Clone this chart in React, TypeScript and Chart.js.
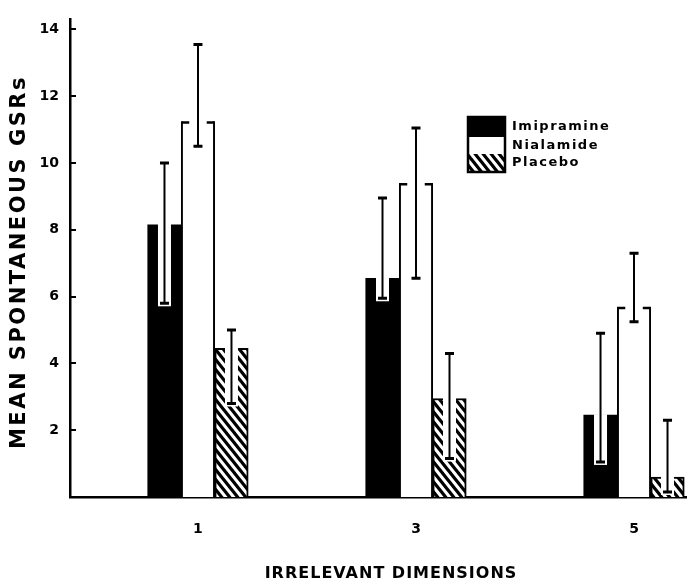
import React, { useEffect, useRef } from "react";
import { Chart, registerables } from "chart.js";

Chart.register(...registerables);

// ---- data ----
const categories = [1, 3, 5];
const seriesNames = ["Imipramine", "Nialamide", "Placebo"];
const imipramineMeans = [8.15, 6.55, 2.45];
const imipramineLow = [5.8, 5.95, 1.05];
const imipramineHigh = [10.0, 8.95, 4.9];
const nialamideMeans = [11.25, 9.4, 5.7];
const nialamideLow = [10.5, 6.55, 5.25];
const nialamideHigh = [13.55, 11.05, 7.3];
const placeboMeans = [4.45, 2.95, 0.6];
const placeboLow = [2.8, 1.15, 0.15];
const placeboHigh = [5.0, 4.3, 2.3];
const yTickValues = [2, 4, 6, 8, 10, 12, 14];
const xTitle = "IRRELEVANT DIMENSIONS";
const yTitle = "MEAN SPONTANEOUS GSRs";

const FONT = "'DejaVu Sans', sans-serif";

function makeHatch(): any {
  const tile = document.createElement("canvas");
  tile.width = 8;
  tile.height = 10;
  const c = tile.getContext("2d")!;
  c.fillStyle = "#fff";
  c.fillRect(0, 0, 8, 10);
  c.strokeStyle = "#000";
  c.lineWidth = 3.2;
  c.beginPath();
  for (const dx of [-16, -8, 0, 8, 16]) {
    c.moveTo(dx - 8, -10);
    c.lineTo(dx + 16, 20);
  }
  c.stroke();
  return c.createPattern(tile, "repeat");
}

const decorPlugin = {
  id: "decor",
  afterDatasetsDraw(chart: any) {
    const ctx = chart.ctx;
    const yScale = chart.scales.y;
    chart.data.datasets.forEach((ds: any, di: number) => {
      const meta = chart.getDatasetMeta(di);
      meta.data.forEach((bar: any, i: number) => {
        const p = bar.getProps(["x", "y", "width"], true);
        const x = p.x, y = p.y, width = p.width;
        const lo = yScale.getPixelForValue(ds.errLow[i]);
        const hi = yScale.getPixelForValue(ds.errHigh[i]);
        ctx.save();
        if (ds.notch && lo > y) {
          ctx.fillStyle = "#fff";
          ctx.fillRect(x - 6.5, y - 1, 13, lo + 3 - y + 1);
        }
        if (ds.bracket) {
          ctx.strokeStyle = "#000";
          ctx.lineWidth = 2.5;
          const l = x - width / 2, r = x + width / 2;
          ctx.beginPath();
          ctx.moveTo(l, y + 1.25);
          ctx.lineTo(l + 8, y + 1.25);
          ctx.moveTo(r, y + 1.25);
          ctx.lineTo(r - 8, y + 1.25);
          ctx.stroke();
        }
        ctx.strokeStyle = "#000";
        ctx.lineWidth = 2;
        ctx.beginPath();
        ctx.moveTo(x, lo);
        ctx.lineTo(x, hi);
        ctx.stroke();
        ctx.lineWidth = 3;
        ctx.beginPath();
        ctx.moveTo(x - 4.5, lo);
        ctx.lineTo(x + 4.5, lo);
        ctx.moveTo(x - 4.5, hi);
        ctx.lineTo(x + 4.5, hi);
        ctx.stroke();
        ctx.restore();
      });
    });
  },
  afterDraw(chart: any) {
    const ctx = chart.ctx;
    const yScale = chart.scales.y;
    const area = chart.chartArea;
    ctx.save();
    // inward y ticks
    ctx.strokeStyle = "#000";
    ctx.lineWidth = 2;
    ctx.beginPath();
    yTickValues.forEach((v) => {
      const py = Math.round(yScale.getPixelForValue(v));
      ctx.moveTo(area.left, py);
      ctx.lineTo(area.left + 6, py);
    });
    ctx.stroke();

    // legend
    const lx = 468, ly = 117, lw = 37;
    const rows = [20, 17, 18];
    const fills = ["#000", "#fff", chart.$hatch];
    let yy = ly;
    rows.forEach((h, k) => {
      ctx.fillStyle = fills[k];
      ctx.fillRect(lx, yy, lw, h);
      ctx.fillStyle = "#000";
      (ctx as any).letterSpacing = "1.5px";
      ctx.font = `bold 13px ${FONT}`;
      ctx.textAlign = "left";
      ctx.textBaseline = "middle";
      ctx.fillText(chart.data.datasets[k].label, 512, yy + h / 2);
      (ctx as any).letterSpacing = "0px";
      yy += h;
    });
    ctx.lineWidth = 2.5;
    ctx.strokeRect(lx, ly, lw, yy - ly);

    // axis titles
    ctx.fillStyle = "#000";
    ctx.textAlign = "center";
    ctx.textBaseline = "middle";
    ctx.font = `bold 16px ${FONT}`;
    (ctx as any).letterSpacing = "1px";
    ctx.fillText(xTitle, 391, 574);
    ctx.translate(20, 262);
    ctx.rotate(-Math.PI / 2);
    ctx.font = `bold 21px ${FONT}`;
    (ctx as any).letterSpacing = "2.5px";
    ctx.fillText(yTitle, 0, 0);
    (ctx as any).letterSpacing = "0px";
    ctx.restore();
  },
};

export default function App() {
  const ref = useRef<HTMLCanvasElement | null>(null);
  useEffect(() => {
    document.body.style.margin = "0";
    const hatch = makeHatch();
    const mk = (vals: number[]) => categories.map((c, i) => ({ x: c, y: vals[i] }));
    const chart = new Chart(ref.current!, {
      type: "bar",
      data: {
        datasets: [
          {
            label: seriesNames[0],
            data: mk(imipramineMeans),
            backgroundColor: "#000",
            borderWidth: 0,
            errLow: imipramineLow,
            errHigh: imipramineHigh,
            notch: true,
          } as any,
          {
            label: seriesNames[1],
            data: mk(nialamideMeans),
            backgroundColor: "#fff",
            borderColor: "#000",
            borderWidth: { left: 2, right: 2, top: 0, bottom: 0 },
            errLow: nialamideLow,
            errHigh: nialamideHigh,
            bracket: true,
          } as any,
          {
            label: seriesNames[2],
            data: mk(placeboMeans),
            backgroundColor: hatch,
            borderColor: "#000",
            borderWidth: 2,
            errLow: placeboLow,
            errHigh: placeboHigh,
            notch: true,
          } as any,
        ],
      },
      options: {
        responsive: false,
        maintainAspectRatio: false,
        animation: false,
        layout: { padding: { top: 12, right: 0, bottom: 0, left: 0 } },
        datasets: { bar: { barThickness: 33.5, grouped: true } } as any,
        plugins: { legend: { display: false }, tooltip: { enabled: false } },
        scales: {
          x: {
            type: "linear",
            min: -0.174,
            max: 5.486,
            offset: false,
            grid: { display: false, drawTicks: false },
            border: { display: true, color: "#000", width: 2.5 },
            ticks: {
              color: "#000",
              padding: 24,
              font: { family: FONT, size: 14, weight: "bold" },
              callback: (v: any) => String(v),
            },
            afterBuildTicks: (s: any) => {
              s.ticks = categories.map((v) => ({ value: v }));
            },
            afterFit: (s: any) => {
              s.height = 89;
            },
          },
          y: {
            type: "linear",
            min: 0,
            max: 14.3,
            grid: { display: false, drawTicks: false },
            border: { display: true, color: "#000", width: 2.5 },
            ticks: {
              color: "#000",
              padding: 11,
              font: { family: FONT, size: 14, weight: "bold" },
              callback: (v: any) => String(v),
            },
            afterBuildTicks: (s: any) => {
              s.ticks = yTickValues.map((v) => ({ value: v }));
            },
            afterFit: (s: any) => {
              s.width = 70;
            },
          },
        },
      } as any,
      plugins: [
        {
          id: "hatchHolder",
          beforeInit(c: any) {
            c.$hatch = hatch;
          },
        },
        decorPlugin,
      ],
    });
    return () => chart.destroy();
  }, []);
  return <canvas ref={ref} width={687} height={586} style={{ display: "block" }} />;
}
